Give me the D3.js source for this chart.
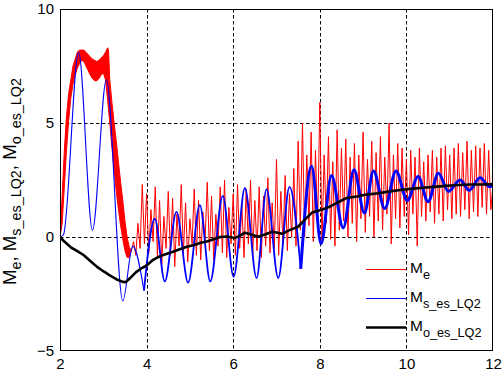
<!DOCTYPE html>
<html><head><meta charset="utf-8">
<script src="https://cdn.jsdelivr.net/npm/d3@7"></script>
<style>body{margin:0;background:#fff}svg{display:block}text{font-family:Arial,"Liberation Sans",sans-serif;fill:#000}</style>
</head><body><svg id="c" width="503" height="372"></svg>
<script>
// ---- data ----
const xTicks = [2, 4, 6, 8, 10, 12];
const yTicks = [-5, 0, 5, 10];

// M_e : dense band at the start (upper / lower envelope)
const meBandX     = [2.00,2.05,2.10,2.15,2.20,2.25,2.30,2.35,2.40,2.45,2.50,2.55,2.60,2.65,2.70,2.75,2.80,2.85,2.90,2.95,3.00,3.05,3.10,3.12,3.15,3.20,3.25,3.30,3.35,3.40,3.45,3.50,3.55,3.60,3.65];
const meBandUpper = [0.1,1.8,3.8,5.3,6.3,6.9,7.5,7.8,8.1,8.2,8.2,8.2,8.1,8.0,7.9,7.8,7.75,7.7,7.75,7.85,7.95,8.1,8.3,8.2,6.9,5.9,5.0,4.2,3.3,2.4,1.6,0.7,0.0,-0.45,-0.6];
const meBandLower = [0.0,0.6,2.2,3.8,5.1,6.1,6.7,7.1,7.4,7.6,7.75,7.7,7.5,7.3,7.1,6.95,6.85,6.85,6.95,7.1,7.2,6.9,6.0,5.6,5.0,3.9,2.9,2.0,1.2,0.5,-0.1,-0.6,-0.9,-0.9,-0.6];

// M_e : oscillating part
const meX = [3.65,3.70,3.75,3.80,3.85,3.90,3.95,4.00,4.05,4.10,4.15,4.20,4.25,4.30,4.35,4.40,4.45,4.50,4.55,4.60,4.65,4.70,4.75,4.80,4.85,4.90,4.95,5.00,
  5.05,5.10,5.15,5.20,5.25,5.30,5.35,5.40,5.45,5.50,5.55,5.60,5.65,5.70,5.75,5.80,5.85,5.90,5.95,6.00,
  6.05,6.10,6.15,6.20,6.25,6.30,6.35,6.40,6.45,6.50,6.55,6.60,6.65,6.70,6.75,6.80,6.85,6.90,6.95,7.00,
  7.05,7.10,7.15,7.20,7.25,7.30,7.35,7.40,7.45,7.50,7.55,7.60,7.65,7.70,7.75,7.80,7.85,7.90,7.95,8.00,
  8.05,8.10,8.15,8.20,8.25,8.30,8.35,8.40,8.45,8.50,8.55,8.60,8.65,8.70,8.75,8.80,8.85,8.90,8.95,9.00,
  9.05,9.10,9.15,9.20,9.25,9.30,9.35,9.40,9.45,9.50,9.55,9.60,9.65,9.70,9.75,9.80,9.85,9.90,9.95,10.00,
  10.05,10.10,10.15,10.20,10.25,10.30,10.35,10.40,10.45,10.50,10.55,10.60,10.65,10.70,10.75,10.80,10.85,10.90,10.95,11.00,
  11.05,11.10,11.15,11.20,11.25,11.30,11.35,11.40,11.45,11.50,11.55,11.60,11.65,11.70,11.75,11.80,11.85,11.90,11.95,12.00];
const meY = [-0.6,-0.2,-0.8,0.6,-0.5,2.3,-0.3,1.9,-0.7,1.2,-0.2,2.2,-0.9,1.6,-1.2,0.9,-0.5,2.0,-0.8,1.7,-1.3,1.0,-0.4,2.3,-0.7,1.5,-1.1,0.8,
  -0.3,2.1,-0.8,1.6,-1.0,1.1,-0.2,2.4,-0.6,1.8,-1.0,1.0,-0.4,2.2,-0.7,2.5,-0.9,1.3,-0.3,1.9,
  -0.8,2.3,-0.5,1.4,-0.9,2.1,-0.3,2.5,-0.8,1.6,-0.6,2.2,-0.9,1.8,-0.4,2.6,-0.7,1.5,-0.5,3.4,
  -0.8,2.0,-0.3,2.7,-0.6,1.9,0.0,3.0,-0.4,4.2,0.3,5.0,0.0,3.6,0.5,4.6,-0.2,3.8,0.4,5.9,
  -0.3,3.6,0.6,4.4,-0.1,3.3,-0.4,4.7,0.3,3.9,0.7,4.3,0.0,3.5,0.6,4.1,-0.2,3.6,0.8,4.6,
  0.2,3.4,0.9,4.2,0.0,3.7,0.7,4.4,0.3,3.5,1.0,5.0,-0.3,3.6,0.8,4.1,0.4,3.9,0.9,3.4,
  0.1,3.8,1.0,3.5,-0.4,3.9,0.9,3.3,0.7,3.6,1.1,3.8,0.6,3.5,1.0,3.9,0.7,4.0,1.2,3.6,
  0.8,3.9,1.0,4.1,0.9,3.7,1.2,4.2,0.8,3.8,1.1,4.0,0.9,3.9,1.3,4.1,1.0,3.8,1.2,2.3];

// M_s_es_LQ2 : extrema of the oscillation
const msX = [2.00,2.08,2.43,2.75,3.07,3.45,3.68,3.94,4.19,4.42,4.69,4.96,5.23,5.47,5.76,6.01,6.27,6.54,6.77,7.04,7.30,7.56,7.81,8.03,8.27,8.54,8.79,9.03,9.24,9.50,9.76,10.02,10.27,10.50,10.74,10.97,11.24,11.45,11.70,11.93,12.00];
const msY = [0.0,0.1,8.1,0.3,6.9,-2.8,-0.4,-2.35,0.8,-1.95,1.1,-2.0,1.4,-1.95,1.8,-1.75,2.15,-1.8,2.1,-1.8,2.2,-1.4,3.1,-0.3,2.7,0.4,2.95,1.05,2.9,1.25,2.9,1.6,2.65,1.55,2.8,2.0,2.5,2.05,2.6,2.2,2.3];

// M_o_es_LQ2
const moX = [2.00,2.10,2.25,2.40,2.55,2.70,2.85,3.00,3.15,3.30,3.45,3.52,3.62,3.75,3.90,4.00,4.15,4.30,4.45,4.61,4.75,4.93,5.10,5.25,5.39,5.55,5.70,5.85,6.04,6.15,6.27,6.40,6.57,6.75,6.90,7.00,7.13,7.30,7.50,7.65,7.82,8.05,8.24,8.35,8.62,8.85,9.08,9.35,9.62,9.90,10.15,10.45,10.77,11.10,11.47,11.75,12.00];
const moY = [0.0,-0.2,-0.45,-0.62,-0.8,-1.05,-1.3,-1.5,-1.68,-1.85,-1.97,-1.98,-1.8,-1.55,-1.35,-1.25,-1.0,-0.85,-0.75,-0.65,-0.55,-0.43,-0.35,-0.25,-0.2,-0.1,0.0,0.02,-0.04,0.05,0.19,0.12,0.01,0.12,0.23,0.2,0.14,0.3,0.45,0.75,1.07,1.2,1.34,1.45,1.71,1.78,1.86,1.92,2.0,2.07,2.12,2.17,2.22,2.27,2.3,2.3,2.32];

const legendItems = [
  {main: "M", sub: "e", color: "#ff0000", width: 1},
  {main: "M", sub: "s_es_LQ2", color: "#0000ff", width: 1},
  {main: "M", sub: "o_es_LQ2", color: "#000000", width: 2.6}
];

// ---- drawing ----
const L = 60, R = 493, T = 9, B = 351;
const svg = d3.select("#c");
const x = d3.scaleLinear().domain([2, 12]).range([L, R]);
const y = d3.scaleLinear().domain([-5, 10]).range([B, T]);

svg.append("rect").attr("width", 503).attr("height", 372).attr("fill", "#fff");
svg.append("defs").append("clipPath").attr("id", "clip")
  .append("rect").attr("x", L).attr("y", T).attr("width", R - L).attr("height", B - T);

// grid
const grid = svg.append("g").attr("stroke", "#000").attr("stroke-width", 1).attr("stroke-dasharray", "3.5,2.5");
grid.selectAll(".gx").data(xTicks.filter(d => d > 2 && d < 12)).enter().append("line")
  .attr("x1", d => Math.round(x(d)) + 0.5).attr("x2", d => Math.round(x(d)) + 0.5).attr("y1", T).attr("y2", B);
grid.selectAll(".gy").data(yTicks.filter(d => d > -5 && d < 10)).enter().append("line")
  .attr("y1", d => Math.round(y(d)) + 0.5).attr("y2", d => Math.round(y(d)) + 0.5).attr("x1", L).attr("x2", R);

const plot = svg.append("g").attr("clip-path", "url(#clip)");

// M_e band
const band = meBandX.map((v, i) => ({x: v, hi: meBandUpper[i], lo: meBandLower[i]}));
plot.append("path").datum(band)
  .attr("d", d3.area().x(d => x(d.x)).y0(d => y(d.lo)).y1(d => y(d.hi)))
  .attr("fill", "#ff0000").attr("stroke", "#ff0000").attr("stroke-width", 1);

// M_e oscillation
const me = meX.map((v, i) => [v, meY[i]]);
plot.append("path").datum(me)
  .attr("d", d3.line().x(d => x(d[0])).y(d => y(d[1])))
  .attr("fill", "none").attr("stroke", "#ff0000").attr("stroke-width", 1);

// M_s (thin first part, thicker later where ripple widens it)
const ms = msX.map((v, i) => [v, msY[i]]);
const msLine = d3.line().x(d => x(d[0])).y(d => y(d[1])).curve(d3.curveMonotoneX);
const segs = [[2, 3.94, 1.1], [3.94, 7.56, 1.8], [7.56, 12, 3]];
segs.forEach(([a, b, w]) => {
  plot.append("path").datum(ms.filter(d => d[0] >= a && d[0] <= b))
    .attr("d", msLine).attr("fill", "none").attr("stroke", "#0000ff").attr("stroke-width", w)
    .attr("stroke-linejoin", "round");
});

// M_o
const mo = moX.map((v, i) => [v, moY[i]]);
plot.append("path").datum(mo)
  .attr("d", d3.line().x(d => x(d[0])).y(d => y(d[1])))
  .attr("fill", "none").attr("stroke", "#000").attr("stroke-width", 2.6).attr("stroke-linejoin", "round");

// box
svg.append("rect").attr("x", L + 0.5).attr("y", T + 0.5).attr("width", R - L - 1).attr("height", B - T - 1)
  .attr("fill", "none").attr("stroke", "#000").attr("stroke-width", 1);

// axes
const xa = svg.append("g").attr("transform", `translate(0,${B})`)
  .call(d3.axisBottom(x).tickValues(xTicks).tickSize(0).tickPadding(7).tickFormat(d3.format("d")));
const ya = svg.append("g").attr("transform", `translate(${L},0)`)
  .call(d3.axisLeft(y).tickValues(yTicks).tickSize(0).tickPadding(6).tickFormat(d3.format("d")));
[xa, ya].forEach(g => {
  g.attr("font-family", null);
  g.select(".domain").remove();
  g.selectAll("text").style("font-size", "15px").attr("fill", "#000");
});

// rich text helper (main text + subscripts)
function buildRich(textSel, parts, mainSize, subSize, shiftPx) {
  textSel.selectAll("tspan").remove();
  let cur = 0;
  parts.forEach(([t, s]) => {
    const target = s ? shiftPx : 0;
    textSel.append("tspan").attr("dy", target - cur)
      .style("font-size", (s ? subSize : mainSize) + "px").text(t);
    cur = target;
  });
}

// y label (fitted to the span it occupies in the reference: y 285 -> 78)
const yl = svg.append("text").attr("transform", "translate(16,285) rotate(-90)").attr("text-anchor", "start");
const ylParts = [["M", 0], ["e", 1], [", M", 0], ["s_es_LQ2", 1], [", M", 0], ["o_es_LQ2", 1]];
const ms0 = 17.5, ss0 = 13.5;
buildRich(yl, ylParts, ms0, ss0, 5);
const k = 207 / yl.node().getComputedTextLength();
buildRich(yl, ylParts, ms0 * k, ss0 * k, 5 * k);

// legend
const lg = svg.append("g");
const legTexts = [];
legendItems.forEach((it, i) => {
  const ly = 269.5 + i * 29;
  lg.append("line").attr("x1", 366).attr("x2", 406).attr("y1", ly).attr("y2", ly)
    .attr("stroke", it.color).attr("stroke-width", it.width);
  const t = lg.append("text").attr("x", 410).attr("y", ly + 3);
  const parts = [[it.main, 0], [it.sub, 1]];
  legTexts.push([t, parts]);
  buildRich(t, parts, 15.5, 12.5, 6);
});
const lk = 71 / legTexts[1][0].node().getComputedTextLength();
legTexts.forEach(([t, p]) => buildRich(t, p, 15.5 * Math.min(1, lk * 1.02), 12.5 * lk, 6));
</script></body></html>
